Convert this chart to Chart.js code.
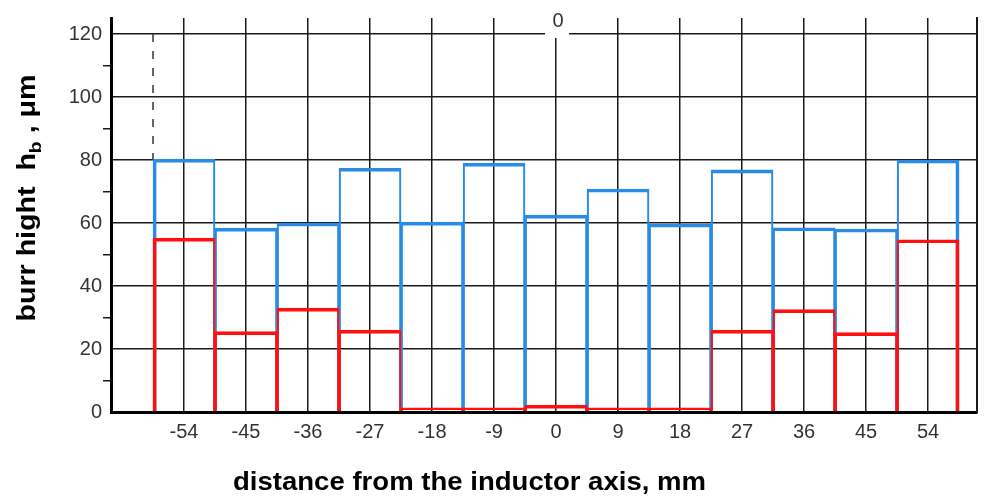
<!DOCTYPE html>
<html>
<head>
<meta charset="utf-8">
<script src="https://cdn.jsdelivr.net/npm/chart.js@4/dist/chart.umd.min.js"></script>
<style>
  html, body { margin: 0; padding: 0; background: #fff; }
  #wrap { width: 989px; height: 498px; }
</style>
</head>
<body>
<div id="wrap"><canvas id="burrChart" width="989" height="498"></canvas></div>
<script>
// Burr height along the inductor, two measured series drawn as outlined bars

// Data
const positions = [-54, -45, -36, -27, -18, -9, 0, 9, 18, 27, 36, 45, 54];
const blueHeights = [80.3, 58.4, 60, 77.4, 60.3, 79, 62.5, 70.8, 59.7, 76.9, 58.5, 58.1, 80];
const redHeights = [55.2, 25.5, 33, 26, 1.3, 1.3, 2.2, 1.3, 1.3, 26, 32.5, 25.2, 54.7];
const dashedMarker = [{ x: -58.5, y: 120 }, { x: -58.5, y: 80 }];
const yTickValues = [0, 10, 20, 30, 40, 50, 60, 70, 80, 90, 100, 110, 120];
const xRange = { min: -64.6, max: 61.1 };
const yMax = 125.1;

const labelFont = { family: 'Liberation Sans, Arial, sans-serif', size: 20 };
const gridColor = '#1a1a1a';

// draw text squeezed/stretched to a given width
function fitText(ctx, text, x, y, width) {
    const w = ctx.measureText(text).width;
    ctx.save();
    ctx.translate(x, y);
    ctx.scale(width / w, 1);
    ctx.fillText(text, 0, 0);
    ctx.restore();
}

// Titles and the little "0" label above the top gridline
const textPlugin = {
    id: 'texts',
    beforeDraw(chart) {
        const ctx = chart.ctx;
        ctx.save();
        ctx.fillStyle = '#fff';
        ctx.fillRect(0, 0, chart.width, chart.height);
        ctx.restore();
    },
    afterDraw(chart) {
        const ctx = chart.ctx;
        const zx = chart.scales.x.getPixelForValue(0);
        ctx.save();

        // gap in the grid with a "0"
        ctx.fillStyle = '#fff';
        ctx.fillRect(zx - 11, 6, 24, 32);
        ctx.fillStyle = '#333';
        ctx.font = '20px Liberation Sans, Arial, sans-serif';
        ctx.textAlign = 'center';
        ctx.textBaseline = 'middle';
        ctx.fillText('0', zx + 2, 21);

        // x title
        ctx.fillStyle = '#000';
        ctx.font = 'bold 25px Liberation Sans, Arial, sans-serif';
        ctx.textAlign = 'left';
        ctx.textBaseline = 'alphabetic';
        fitText(ctx, 'distance from the inductor axis, mm', 233, 490, 473);

        // y title with subscript b
        ctx.translate(35, 198);
        ctx.rotate(-Math.PI / 2);
        const big = 'bold 25px Liberation Sans, Arial, sans-serif';
        const small = 'bold 17px Liberation Sans, Arial, sans-serif';
        const p1 = 'burr hight  h', p2 = 'b', p3 = ' , \u03BCm';
        ctx.font = big;
        const w1 = ctx.measureText(p1).width, w3 = ctx.measureText(p3).width;
        ctx.font = small;
        const w2 = ctx.measureText(p2).width;
        const total = w1 + w2 + w3;
        ctx.scale(247 / total, 1);
        let x = -total / 2;
        ctx.font = big;
        ctx.fillText(p1, x, 0);
        x += w1;
        ctx.font = small;
        ctx.fillText(p2, x, 6);
        x += w2;
        ctx.font = big;
        ctx.fillText(p3, x, 0);
        ctx.restore();
    }
};

function barData(values) {
    return positions.map((p, i) => ({ x: p, y: values[i] }));
}

// shared edges are 1.5 + 1.5, outer edges get the full 3
function edgeWidth(c) {
    const last = positions.length - 1;
    return {
        top: 3,
        left: c.dataIndex === 0 ? 3 : 1.5,
        right: c.dataIndex === last ? 3 : 1.5,
        bottom: 0
    };
}

const barStyle = {
    backgroundColor: 'rgba(0,0,0,0)',
    borderWidth: edgeWidth,
    borderSkipped: 'bottom',
    grouped: false,
    categoryPercentage: 1,
    barPercentage: 1
};

const ctxBurr = document.getElementById('burrChart').getContext('2d');
new Chart(ctxBurr, {
    type: 'bar',
    data: {
        datasets: [Object.assign({
            label: 'red',
            data: barData(redHeights),
            borderColor: '#ff1010',
            order: 1
        }, barStyle), Object.assign({
            label: 'blue',
            data: barData(blueHeights),
            borderColor: '#2a8be6',
            order: 2
        }, barStyle), {
            type: 'line',
            label: 'marker',
            data: dashedMarker,
            borderColor: '#333',
            borderWidth: 1.5,
            borderDash: [8, 9],
            pointRadius: 0,
            fill: false,
            order: 3
        }]
    },
    options: {
        responsive: false,
        animation: false,
        layout: { padding: { left: 0, top: 18, right: 12, bottom: 46 } },
        plugins: {
            legend: { display: false },
            tooltip: { enabled: false }
        },
        scales: {
            x: {
                type: 'linear',
                offset: false,
                min: xRange.min,
                max: xRange.max,
                afterBuildTicks: s => {
                    s.ticks = positions.map(v => ({ value: v }));
                },
                afterFit: s => { s.height = 40; },
                ticks: {
                    autoSkip: false,
                    maxRotation: 0,
                    padding: 8,
                    color: '#333',
                    font: labelFont
                },
                grid: { offset: false, color: gridColor, lineWidth: 1.5, drawTicks: false },
                border: { color: '#000', width: 3 }
            },
            y: {
                min: 0,
                max: yMax,
                afterBuildTicks: s => {
                    s.ticks = yTickValues.map(v => ({ value: v }));
                },
                afterFit: s => { s.width = 111; },
                ticks: {
                    autoSkip: false,
                    padding: 1,
                    color: '#333',
                    font: labelFont,
                    callback: v => v % 20 === 0 ? String(v) : ''
                },
                grid: {
                    lineWidth: 1.5,
                    tickLength: 8,
                    color: c => c.tick && c.tick.value % 20 === 0 ? gridColor : 'rgba(0,0,0,0)',
                    tickColor: c => c.tick && c.tick.value % 20 !== 0 ? gridColor : 'rgba(0,0,0,0)'
                },
                border: { color: '#000', width: 3 }
            },
            // right-hand frame line
            yRight: {
                position: 'right',
                min: 0,
                max: yMax,
                afterFit: s => { s.width = 0; },
                ticks: { display: false },
                grid: { drawOnChartArea: false, drawTicks: false },
                border: { color: gridColor, width: 2 }
            }
        }
    },
    plugins: [textPlugin]
});
</script>
</body>
</html>
